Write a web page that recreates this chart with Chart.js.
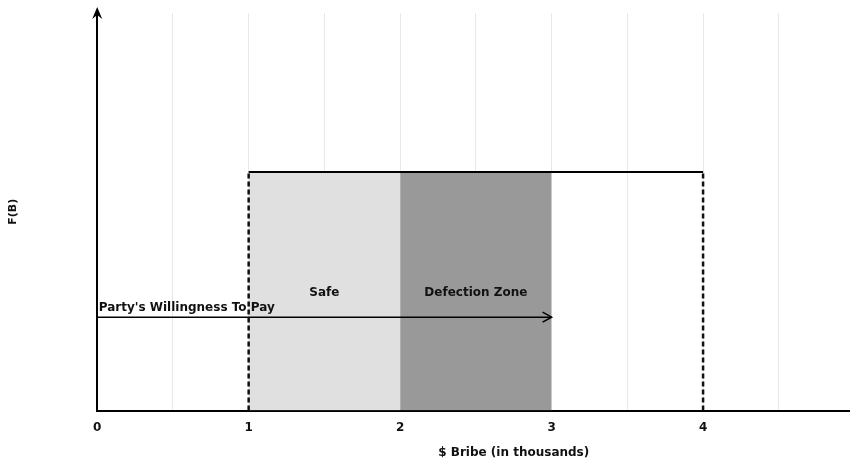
<!DOCTYPE html>
<html>
<head>
<meta charset="utf-8">
<script src="https://cdn.jsdelivr.net/npm/chart.js@4.4.0/dist/chart.umd.min.js"></script>
<style>
  html, body { margin: 0; padding: 0; background: #fff; }
  #wrap { width: 850px; height: 464px; position: relative; }
</style>
</head>
<body>
<div id="wrap"><canvas id="bribeChart"></canvas></div>
<script>
// Дані графіка (тисячі доларів хабара)
const xTicks = [0, 1, 2, 3, 4];
const safeZone = [1, 2];          // світло-сіра зона
const defectionZone = [2, 3];     // темно-сіра зона
const bribeRange = [1, 4];        // прямокутник F(B)
const densityHeight = 0.6;        // висота F(B)
const willingnessToPay = 3;       // кінець стрілки
const willingnessLevel = 0.235;   // рівень стрілки

const zoneLabels = [
    { text: 'Safe', x: 1.5, y: 0.296, align: 'center' },
    { text: 'Defection Zone', x: 2.5, y: 0.296, align: 'center' },
    { text: "Party's Willingness To Pay", x: 0.01, y: 0.259, align: 'left' }
];

const labelFont = 'bold 12px "DejaVu Sans", sans-serif';

function seg(a, b, y) {
    return [{ x: a, y: y }, { x: b, y: y }];
}

// Плагін: стрілки осей, стрілка бажання платити, підписи
const annotations = {
    id: 'annotations',
    afterDatasetsDraw(chart) {
        const ctx = chart.ctx;
        const xs = chart.scales.x;
        const ys = chart.scales.y;
        const area = chart.chartArea;
        ctx.save();

        // стрілка осі Y
        ctx.fillStyle = '#000';
        ctx.beginPath();
        ctx.moveTo(area.left, area.top - 6);
        ctx.lineTo(area.left - 5, area.top + 6);
        ctx.lineTo(area.left, area.top + 2);
        ctx.lineTo(area.left + 5, area.top + 6);
        ctx.closePath();
        ctx.fill();

        // стрілка бажання платити
        const ax = xs.getPixelForValue(willingnessToPay);
        const ay = ys.getPixelForValue(willingnessLevel);
        ctx.strokeStyle = '#000';
        ctx.lineWidth = 1.5;
        ctx.beginPath();
        ctx.moveTo(ax - 9, ay - 5);
        ctx.lineTo(ax, ay);
        ctx.lineTo(ax - 9, ay + 5);
        ctx.stroke();

        // підписи зон
        ctx.font = labelFont;
        ctx.fillStyle = '#111';
        ctx.textBaseline = 'middle';
        zoneLabels.forEach(l => {
            ctx.textAlign = l.align;
            ctx.fillText(l.text, xs.getPixelForValue(l.x), ys.getPixelForValue(l.y));
        });

        // назва осі X
        ctx.textAlign = 'center';
        ctx.fillText('$ Bribe (in thousands)', xs.getPixelForValue(2.75), 453);
        ctx.restore();
    }
};

new Chart(document.getElementById('bribeChart'), {
    type: 'scatter',
    data: {
        datasets: [
            {
                data: seg(safeZone[0], safeZone[1], densityHeight),
                showLine: true, fill: 'origin', order: 10,
                backgroundColor: '#e0e0e0', borderWidth: 0, pointRadius: 0
            },
            {
                data: seg(defectionZone[0], defectionZone[1], densityHeight),
                showLine: true, fill: 'origin', order: 10,
                backgroundColor: '#999999', borderWidth: 0, pointRadius: 0
            },
            {
                data: seg(bribeRange[0], bribeRange[1], densityHeight),
                showLine: true, borderColor: '#000', borderWidth: 2, pointRadius: 0
            },
            {
                data: [{ x: bribeRange[0], y: 0 }, { x: bribeRange[0], y: densityHeight }],
                showLine: true, borderColor: '#111', borderWidth: 2.5,
                borderDash: [5, 3], pointRadius: 0
            },
            {
                data: [{ x: bribeRange[1], y: 0 }, { x: bribeRange[1], y: densityHeight }],
                showLine: true, borderColor: '#111', borderWidth: 2.5,
                borderDash: [5, 3], pointRadius: 0
            },
            {
                data: seg(0, willingnessToPay, willingnessLevel),
                showLine: true, borderColor: '#000', borderWidth: 1.5, pointRadius: 0
            }
        ]
    },
    options: {
        responsive: true,
        maintainAspectRatio: false,
        animation: false,
        layout: { padding: { top: 13, left: 7, right: 0, bottom: 29 } },
        plugins: {
            legend: { display: false },
            tooltip: { enabled: false }
        },
        scales: {
            x: {
                type: 'linear',
                min: 0,
                max: 4.97,
                border: { color: '#000', width: 2 },
                grid: {
                    color: '#e8e8e8',
                    drawTicks: true,
                    tickLength: 10,
                    tickColor: 'rgba(0,0,0,0)'
                },
                ticks: {
                    stepSize: 0.5,
                    padding: 0,
                    color: '#111',
                    font: { family: '"DejaVu Sans", sans-serif', size: 12, weight: 'bold' },
                    callback: v => xTicks.includes(v) ? String(v) : ''
                }
            },
            y: {
                min: 0,
                max: 1,
                border: { color: '#000', width: 2 },
                grid: { display: false },
                ticks: { display: false },
                title: {
                    display: true,
                    text: 'F(B)',
                    color: '#111',
                    font: { family: '"DejaVu Sans", sans-serif', size: 11, weight: 'bold' },
                    padding: { top: 0, bottom: 69 }
                }
            }
        }
    },
    plugins: [annotations]
});
</script>
</body>
</html>
